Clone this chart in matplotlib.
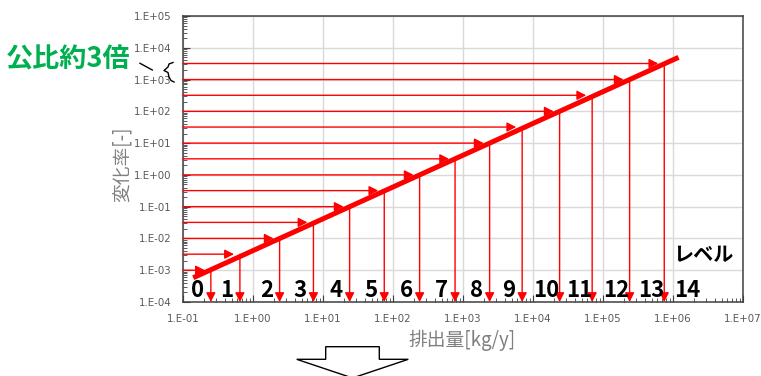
import numpy as np
import matplotlib
matplotlib.use("Agg")
import matplotlib.pyplot as plt
from matplotlib.ticker import LogLocator, FuncFormatter, NullFormatter
from matplotlib.patches import Polygon
from matplotlib.lines import Line2D

JP = ['Noto Sans CJK JP', 'DejaVu Sans']
plt.rcParams['font.family'] = ['DejaVu Sans']

# 変化率のレベル境界（公比約3倍）
rate_levels = [1e-3, 3.2e-3, 1e-2, 3.2e-2, 1e-1, 3.2e-1, 1, 3.2, 10, 32, 100, 320, 1000, 3200]
# 各境界に対応する排出量[kg/y]
emission_levels = [0.25, 0.65, 2.4, 7.3, 24, 75, 240, 770, 2400, 7000, 2.4e4, 7.0e4, 2.4e5, 7.5e5]
level_names = ['0', '1', '2', '3', '4', '5', '6', '7', '8', '9', '10', '11', '12', '13', '14']
# 排出量と変化率の関係（直線）
trend_x = [0.14, 1.2e6]
trend_y = [5.8e-4, 5.0e3]

RED = '#ff0000'
W, H = 761, 376

fig = plt.figure(figsize=(W / 100, H / 100), dpi=100)
ax = fig.add_axes([183 / W, 1 - 302 / H, 560 / W, 286 / H])
ax.set_xscale('log')
ax.set_yscale('log')
ax.set_xlim(1e-1, 1e7)
ax.set_ylim(1e-4, 1e5)

fmt = FuncFormatter(lambda v, p: "1.E{:+03d}".format(int(round(np.log10(v)))))
for axis in (ax.xaxis, ax.yaxis):
    axis.set_major_locator(LogLocator(base=10, numticks=20))
    axis.set_minor_locator(LogLocator(base=10, subs=np.arange(2, 10), numticks=20))
    axis.set_major_formatter(fmt)
    axis.set_minor_formatter(NullFormatter())

ax.set_axisbelow(True)
ax.grid(True, which='major', color='#d9d9d9', lw=1.0)
ax.tick_params(which='both', direction='in', color='#404040', labelcolor='#595959', labelsize=7.4)
ax.tick_params(which='major', length=5)
ax.tick_params(which='minor', length=3)
ax.tick_params(axis='y', pad=8.5)
ax.tick_params(axis='x', pad=9)
for s in ax.spines.values():
    s.set_color('#404040')
    s.set_linewidth(1.1)

# 直線
ax.plot(trend_x, trend_y, color=RED, lw=3.6, solid_capstyle='butt', zorder=4)

# 矢印：変化率 → 直線 → 排出量
head = '-|>,head_length=0.55,head_width=0.28'
for xk, yk in zip(emission_levels, rate_levels):
    ax.annotate('', xy=(xk, yk), xytext=(1e-1, yk),
                arrowprops=dict(arrowstyle=head, color=RED, lw=1.0,
                                shrinkA=0, shrinkB=4.3, mutation_scale=10))
    ax.annotate('', xy=(xk, 1e-4), xytext=(xk, yk),
                arrowprops=dict(arrowstyle=head, color=RED, lw=1.0,
                                shrinkA=0, shrinkB=0, mutation_scale=10))

# レベル番号
for k, name in enumerate(level_names):
    if k < len(emission_levels):
        anchor, dx = emission_levels[k], -9.5
    else:
        anchor, dx = emission_levels[-1], 16.5
    ax.annotate(name, xy=(anchor, 0.0185), xycoords=('data', 'axes fraction'),
                xytext=(dx, 0), textcoords='offset points', family=JP,
                ha='center', va='baseline', fontsize=16, fontweight='bold', color='black')


def ftext(x, y, s, **kw):
    fig.text(x / W, 1 - y / H, s, family=JP, **kw)


def px(points):
    return [(x / W, 1 - y / H) for x, y in points]


ftext(703, 255, 'レベル', fontsize=14.5, fontweight='bold', ha='center', va='center')
ftext(68, 59, '公比約3倍', color='#00b050', fontsize=19.5, fontweight='bold', ha='center', va='center')
ftext(121.7, 164, '変化率[-]', rotation=90, color='#7f7f7f', fontsize=13.5, ha='center', va='center')
ftext(462, 340, '排出量[kg/y]', color='#7f7f7f', fontsize=13.5, ha='center', va='center')

# 括弧と斜線
slash = px([(140, 63.3), (152.3, 70)])
fig.add_artist(Line2D([p[0] for p in slash], [p[1] for p in slash],
                      transform=fig.transFigure, color='black', lw=1.0))
brace = px([(173, 62.5), (169, 64), (168, 67), (164, 70.5), (168, 72.5),
            (169, 77), (171, 80.5), (174, 82)])
fig.add_artist(Line2D([p[0] for p in brace], [p[1] for p in brace],
                      transform=fig.transFigure, color='black', lw=1.0))

# 下向きの矢印
arrow = px([(325.7, 346.7), (379.3, 346.7), (379.3, 359.3), (408.3, 359.3),
            (352.5, 378), (296.7, 359.3), (325.7, 359.3)])
fig.add_artist(Polygon(arrow, closed=True, transform=fig.transFigure,
                       facecolor='white', edgecolor='black', lw=1.0))

fig.savefig('out.png', dpi=100)
